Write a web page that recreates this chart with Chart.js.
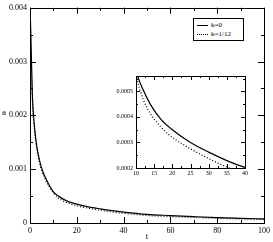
<!DOCTYPE html>
<html lang="en">
<head>
    <meta charset="UTF-8">
    <title>a(t)</title>
    <script src="https://cdn.jsdelivr.net/npm/chart.js"></script>
    <style>
        body{margin:0;background:#fff;font-family:'Liberation Serif',serif;color:#000}
        .wrap{position:relative;width:273px;height:242px}
        #mainChart{position:absolute;left:0;top:0}
        #insetChart{position:absolute;left:100px;top:66px}
        .ylab{position:absolute;left:2px;top:107px;font-size:9px}
        .legend{position:absolute;left:193px;top:18px;width:49px;height:21px;border:1px solid #000;background:#fff;font-size:7px;line-height:8px;color:#000}
        .legend div{position:relative;height:8px;margin-top:2px;padding-left:17px}
        .legend span{position:absolute;left:3px;top:4px;width:11px;border-top:1px solid #000}
        .legend span.dot{border-top:1px dotted #000}
    </style>
</head>
<body>
<div class="wrap">
    <canvas id="mainChart" width="273" height="242"></canvas>
    <canvas id="insetChart" width="152" height="116"></canvas>
    <div class="ylab">a</div>
    <div class="legend">
        <div><span></span>k=0</div>
        <div style="margin-top:1px"><span class="dot"></span>k=1/12</div>
    </div>
</div>
<script>
// data
const tVals = [0,1,2,3,4,5,6,8,10,12,14,17,20,25,30,35,40,50,60,70,80,90,100];
const k0 = [0.0041,0.0024,0.00175,0.0014,0.00118,0.00102,0.0009,0.00072,0.00058,0.000505,0.000448,0.000388,0.00035,0.0003,0.000262,0.000229,0.000202,0.00016,0.000138,0.000118,0.0001,0.000087,0.000075];
const k12 = [0.0041,0.0023,0.0017,0.00135,0.00113,0.00097,0.00086,0.00069,0.00056,0.000468,0.000412,0.000358,0.00032,0.000275,0.000237,0.000204,0.00018,0.00014,0.00012,0.000102,0.000088,0.000075,0.000064];

const mainXTicks = [0,20,40,60,80,100];
const mainYTicks = [0,0.001,0.002,0.003,0.004];
const mainYLabels = ['0','0.001','0.002','0.003','0.004'];
const insetXTicks = [10,15,20,25,30,35,40];
const insetYTicks = [0.0002,0.0003,0.0004,0.0005];
const insetYLabels = ['0.0002','0.0003','0.0004','0.0005'];

const pts = arr => tVals.map((t,i) => ({x:t, y:arr[i]}));

// frame + inward ticks on all four sides
const frameTicks = {
    id:'frameTicks',
    afterDraw(chart, args, o){
        const {ctx, chartArea:a, scales:{x, y}} = chart;
        ctx.save();
        ctx.strokeStyle = '#000';
        ctx.lineWidth = 1;
        ctx.strokeRect(Math.round(a.left)+0.5, Math.round(a.top)+0.5, Math.round(a.right-a.left), Math.round(a.bottom-a.top));
        ctx.beginPath();
        const xt = (v, len) => {
            const px = Math.round(x.getPixelForValue(v))+0.5;
            ctx.moveTo(px, a.bottom); ctx.lineTo(px, a.bottom-len);
            ctx.moveTo(px, a.top); ctx.lineTo(px, a.top+len);
        };
        const yt = (v, len) => {
            const py = Math.round(y.getPixelForValue(v))+0.5;
            ctx.moveTo(a.left, py); ctx.lineTo(a.left+len, py);
            ctx.moveTo(a.right, py); ctx.lineTo(a.right-len, py);
        };
        for (let v = x.min; v <= x.max+1e-9; v += o.xMinor) xt(v, o.minor);
        for (let v = y.min; v <= y.max+1e-12; v += o.yMinor) yt(v, o.minor);
        o.xMajor.forEach(v => xt(v, o.major));
        o.yMajor.forEach(v => yt(v, o.major));
        ctx.stroke();
        ctx.restore();
    }
};

const lineSets = () => [
    {label:'k=0', data:pts(k0), borderColor:'#000', borderWidth:1.2, pointRadius:0, cubicInterpolationMode:'monotone'},
    {label:'k=1/12', data:pts(k12), borderColor:'#000', borderWidth:1.2, borderDash:[1,2], pointRadius:0, cubicInterpolationMode:'monotone'}
];

function axis(min, max, ticks, labels, size, pad, fixW, fixH, title){
    return {
        type:'linear', min, max,
        grid:{display:false, drawTicks:false}, border:{display:false},
        afterBuildTicks: s => { s.ticks = ticks.map(v => ({value:v})); },
        afterFit: s => { if (fixW) s.width = fixW; if (fixH) s.height = fixH; },
        ticks:{color:'#000', padding:pad, autoSkip:false, maxRotation:0,
            font:{family:'Liberation Serif', size},
            callback:(v) => { const i = ticks.indexOf(v); return labels ? labels[i] : String(v); }},
        title: title ? {display:true, text:title, color:'#000', padding:0, font:{family:'Liberation Serif', size:9}} : {display:false}
    };
}

new Chart(document.getElementById('mainChart'), {
    type:'line',
    data:{datasets:lineSets()},
    options:{
        responsive:false, animation:false,
        layout:{padding:{top:4, right:8, left:0, bottom:0}},
        plugins:{legend:{display:false}, tooltip:{enabled:false},
            frameTicks:{xMajor:mainXTicks, yMajor:mainYTicks, xMinor:10, yMinor:0.0005, major:6, minor:3}},
        scales:{
            x: axis(0, 100, mainXTicks, null, 8, 3, 0, 19, 't'),
            y: axis(0, 0.004, mainYTicks, mainYLabels, 8, 3, 30, 0, null)
        }
    },
    plugins:[frameTicks]
});

new Chart(document.getElementById('insetChart'), {
    type:'line',
    data:{datasets:lineSets()},
    options:{
        responsive:false, animation:false,
        layout:{padding:{top:10, right:7, left:0, bottom:0}},
        plugins:{legend:{display:false}, tooltip:{enabled:false},
            frameTicks:{xMajor:insetXTicks, yMajor:insetYTicks, xMinor:2.5, yMinor:0.00005, major:4, minor:2}},
        scales:{
            x: axis(10, 40, insetXTicks, null, 6, 2, 0, 14, null),
            y: axis(0.0002, 0.00056, insetYTicks, insetYLabels, 6, 3, 36, 0, null)
        }
    },
    plugins:[frameTicks]
});
</script>
</body>
</html>
